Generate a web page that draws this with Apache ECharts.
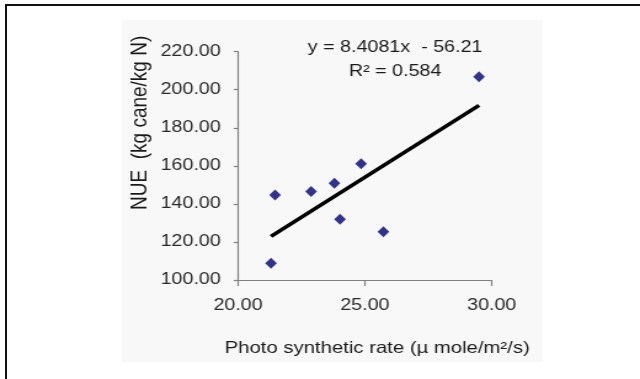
<!DOCTYPE html>
<html>
<head>
<meta charset="utf-8">
<script src="https://cdn.jsdelivr.net/npm/echarts@6/dist/echarts.min.js"></script>
<style>
  html, body { margin: 0; padding: 0; background: #fff; width: 640px; height: 379px; overflow: hidden; }
  #frame { position: absolute; left: 5px; top: 4px; width: 700px; height: 420px; border-left: 2px solid #111; border-top: 2px solid #111; z-index: 5; pointer-events: none; }
  /* the original figure is a pasted picture, stretched sideways */
  #chart { position: absolute; left: 0; top: 0; width: 520px; height: 379px; transform: scaleX(1.2308); transform-origin: 0 0; z-index: 1; }
</style>
</head>
<body>
<div id="chart"></div>
<div id="frame"></div>
<script>
// photosynthetic rate (µ mole/m2/s) vs NUE (kg cane/kg N)
const rateX = [21.30, 21.46, 22.88, 23.80, 24.02, 24.85, 25.73, 29.50]
const nueY = [108.8, 144.7, 146.5, 150.9, 131.9, 161.1, 125.4, 206.8]
// linear trend line ends
const trendX = [21.30, 29.50]
const trendY = [122.9, 191.8]
const eqText = ['y = 8.4081x  - 56.21', 'R² = 0.584']
const xTicks = { min: 20, max: 30, step: 5 }
const yTicks = { min: 100, max: 220, step: 20 }

const font = 'Liberation Sans, Arial, sans-serif'
const chart = echarts.init(document.getElementById('chart'), null, { renderer: 'canvas', width: 520, height: 379 })

const option = {
    animation: false,
    backgroundColor: 'transparent',
    grid: { left: 193.4, top: 51.7, width: 206.1, height: 228.3, containLabel: false },
    graphic: [
        { type: 'rect', silent: true, z: -10, shape: { x: 99, y: 20, width: 342, height: 342 }, style: { fill: '#f8f8f8' } },
        { type: 'text', x: 321, y: 48, style: { text: eqText[0], fill: '#1a1a1a', font: '16px ' + font, align: 'center', verticalAlign: 'middle' } },
        { type: 'text', x: 321, y: 72, style: { text: eqText[1], fill: '#1a1a1a', font: '16px ' + font, align: 'center', verticalAlign: 'middle' } }
    ],
    xAxis: {
        type: 'value',
        min: xTicks.min, max: xTicks.max, interval: xTicks.step,
        name: 'Photo synthetic rate (µ mole/m²/s)',
        nameLocation: 'middle',
        nameGap: 60,
        nameTextStyle: { color: '#1a1a1a', fontSize: 16.5, fontFamily: font, padding: [0, 0, 0, 20] },
        splitLine: { show: false },
        axisLine: { show: true, lineStyle: { color: '#808080', width: 1.2 } },
        axisTick: { show: true, length: 6, lineStyle: { color: '#808080', width: 1.2 } },
        axisLabel: { color: '#2a2a2a', fontSize: 16, fontFamily: font, margin: 18, formatter: v => v.toFixed(2) }
    },
    yAxis: {
        type: 'value',
        min: yTicks.min, max: yTicks.max, interval: yTicks.step,
        name: 'NUE  (kg cane/kg N)',
        nameLocation: 'middle',
        nameRotate: 90,
        nameGap: 70,
        nameTextStyle: { color: '#1a1a1a', fontSize: 19, fontFamily: font, padding: [0, 0, 0, 86] },
        splitLine: { show: false },
        axisLine: { show: true, lineStyle: { color: '#808080', width: 1.2 } },
        axisTick: { show: true, length: 3.5, lineStyle: { color: '#808080', width: 1.2 } },
        axisLabel: { color: '#2a2a2a', fontSize: 16, fontFamily: font, margin: 14, formatter: v => v.toFixed(2) }
    },
    series: [
        {
            type: 'scatter',
            data: rateX.map((x, i) => [x, nueY[i]]),
            symbol: 'diamond',
            symbolSize: [9.5, 11],
            itemStyle: { color: '#00006e' },
            z: 3
        },
        {
            type: 'line',
            data: trendX.map((x, i) => [x, trendY[i]]),
            symbol: 'none',
            lineStyle: { color: '#000', width: 3.5 },
            z: 2
        }
    ]
}
chart.setOption(option)
</script>
</body>
</html>
